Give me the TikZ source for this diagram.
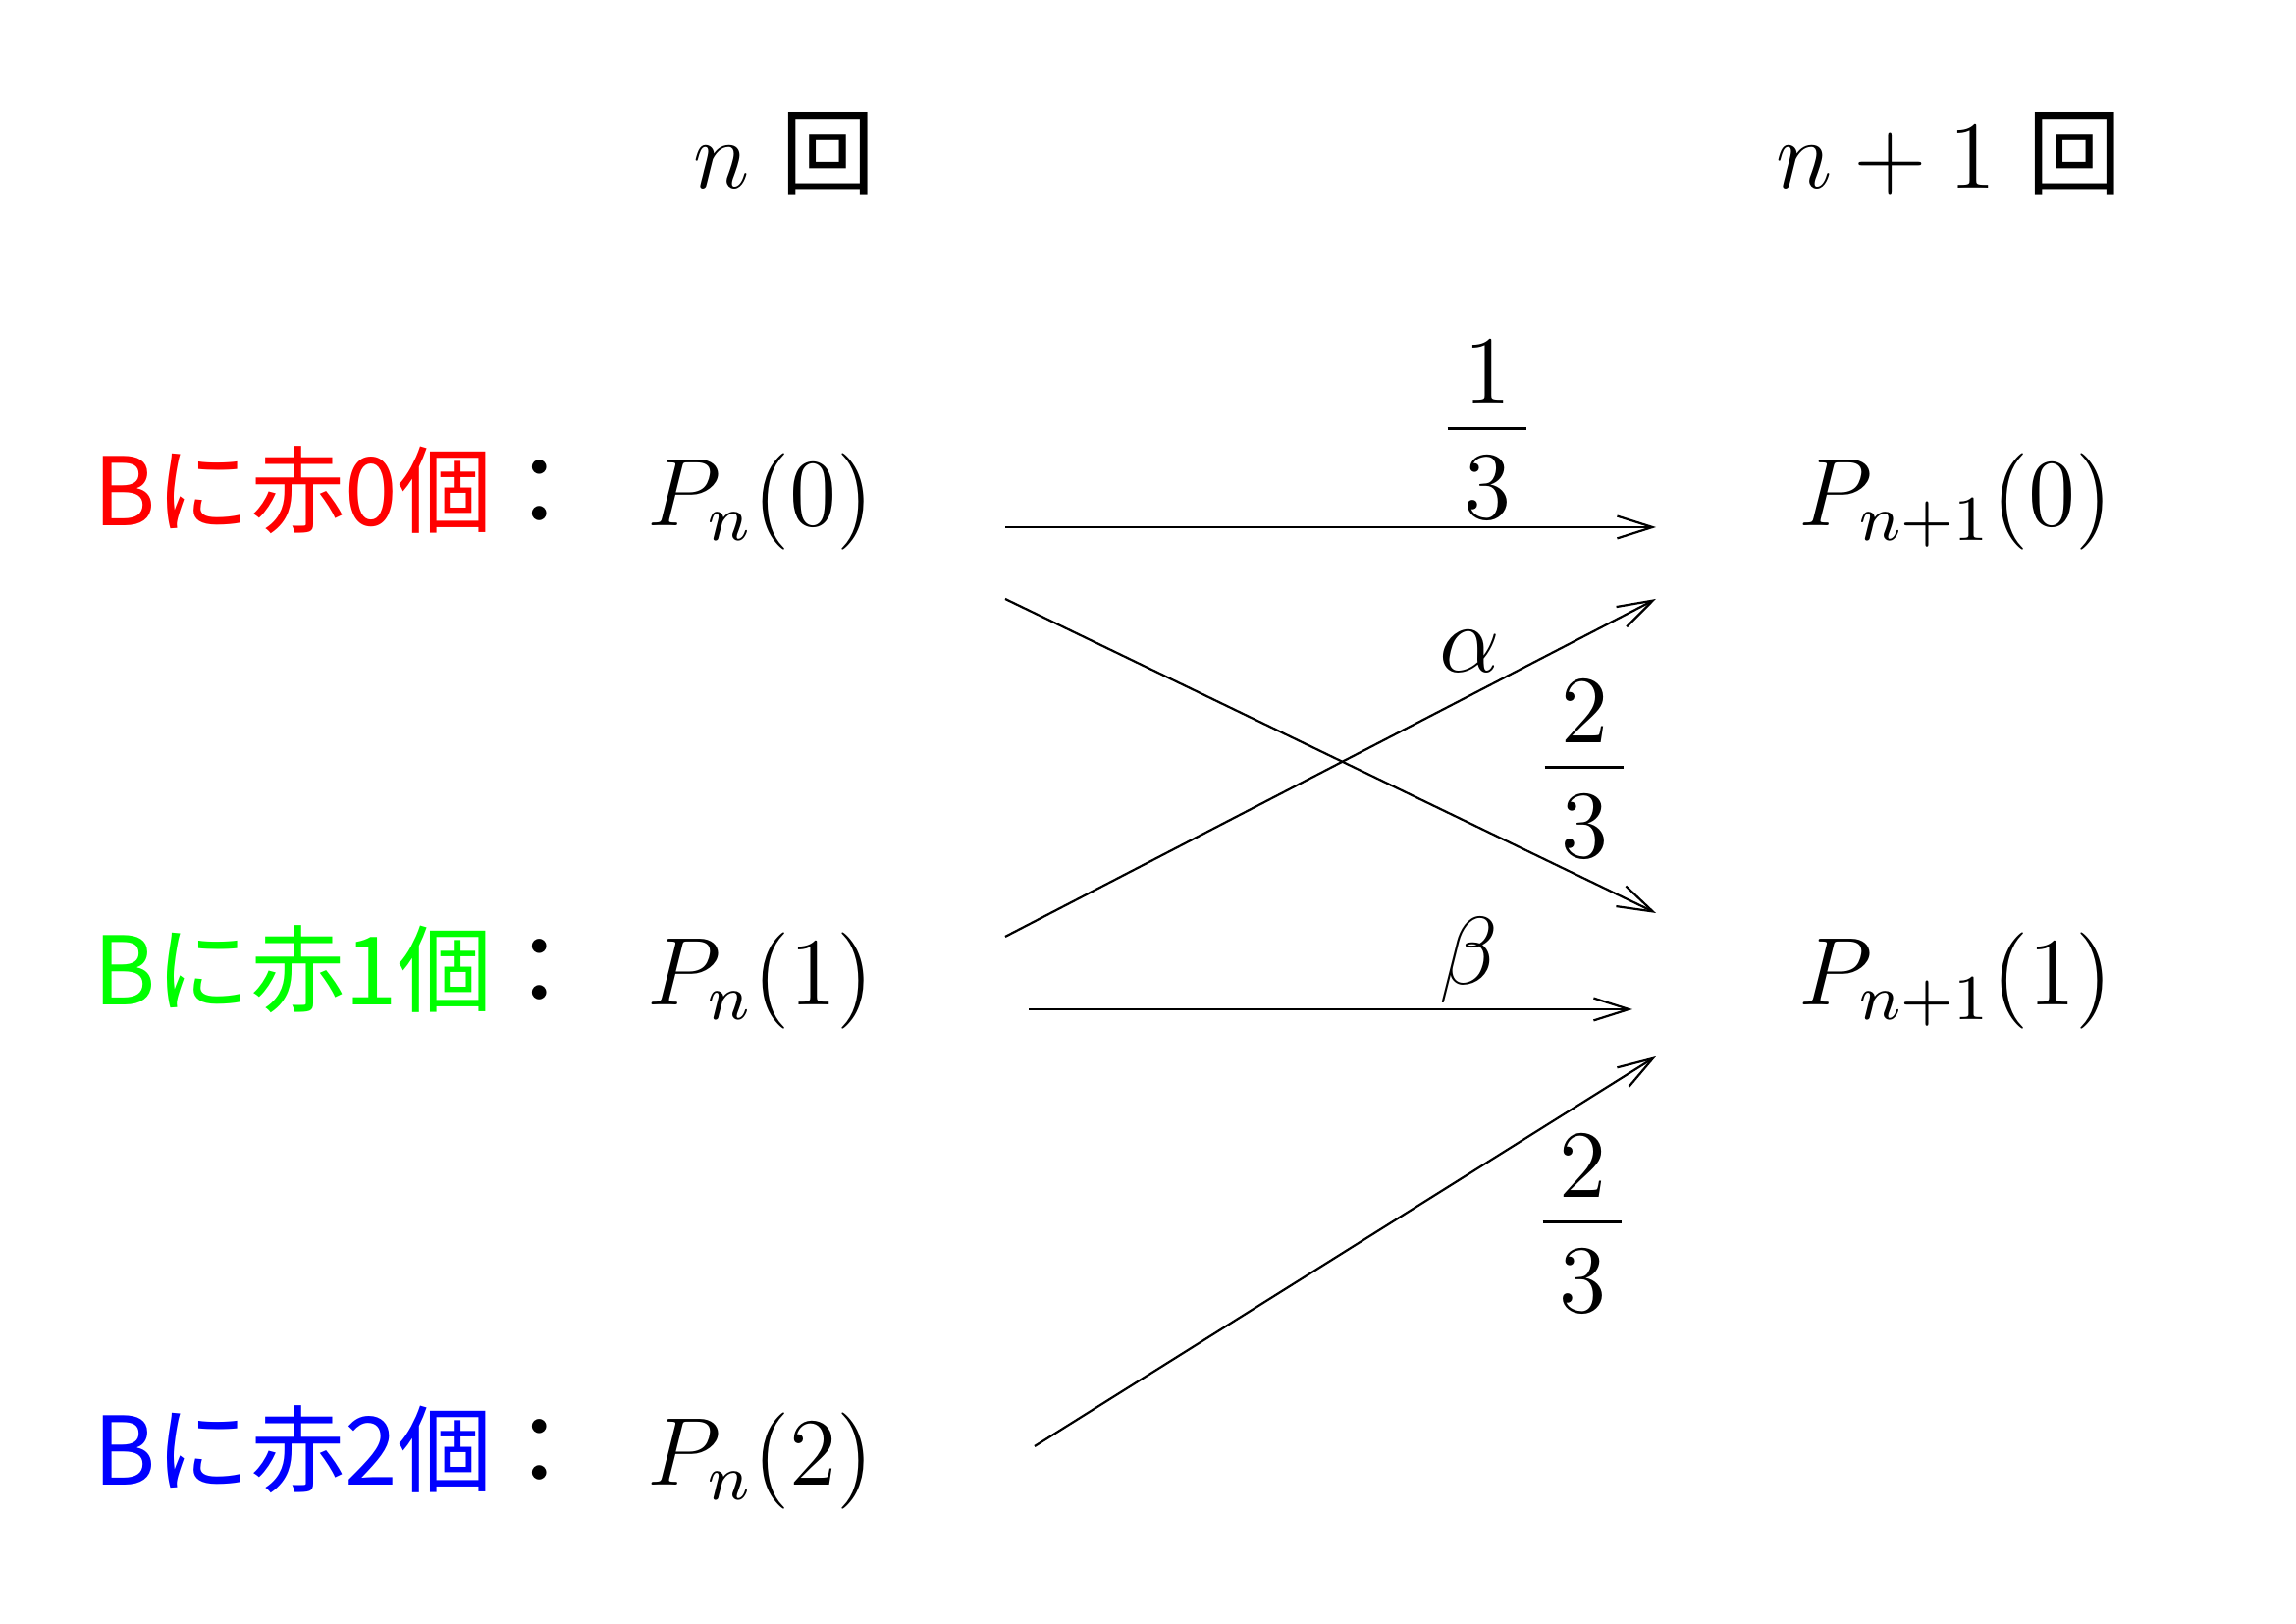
\documentclass[12pt,tikz,border=0pt]{standalone}
\usepackage{fontspec}
\newfontfamily\jpfam{Noto Sans CJK JP}
\newcommand{\jp}{\jpfam\fontsize{11.8pt}{14pt}\selectfont}
\usetikzlibrary{arrows.meta}
\newcommand{\myfrac}[2]{\displaystyle\frac{\raisebox{-2pt}{$\,#1\,$}}{\,#2\,}}
\begin{document}
\begin{tikzpicture}[x=0.1224pt,y=-0.1224pt,
  lbl/.style={inner sep=0pt,anchor=base west},
  mid/.style={inner sep=0pt,anchor=base},
  arr/.style={-{Straight Barb[length=4.4pt,width=2.8pt]},line width=0.27pt}]
\useasboundingbox (0,0) rectangle (2339,1654);
% headers
\node[lbl] (h0) at (705,192) {$n$ {\jp 回}};
\node[lbl] (h1) at (1808,192) {$n+1$ {\jp 回}};
% row labels
\node[lbl] (L0) at (94,536) {\jp\textcolor{red}{Bに赤0個}：};
\node[lbl] (L1) at (94,1024) {\jp\textcolor{green}{Bに赤1個}：};
\node[lbl] (L2) at (94,1513) {\jp\textcolor{blue}{Bに赤2個}：};
% probabilities
\node[lbl] (P0) at (658,536) {$P_n(0)$};
\node[lbl] (P1) at (658,1024) {$P_n(1)$};
\node[lbl] (P2) at (658,1513) {$P_n(2)$};
\node[lbl] (Q0) at (1831,536) {$P_{n+1}(0)$};
\node[lbl] (Q1) at (1831,1024) {$P_{n+1}(1)$};
% arrow ends
\coordinate (a0s) at (1024,537);
\coordinate (a0e) at (1687,537);
\coordinate (x1s) at (1024,610);
\coordinate (x1e) at (1687,930);
\coordinate (x2s) at (1024,954);
\coordinate (x2e) at (1687,610);
\coordinate (b1s) at (1048,1028);
\coordinate (b1e) at (1663,1028);
\coordinate (c2s) at (1054,1473);
\coordinate (c2e) at (1687,1076);
\draw[arr] (a0s) -- (a0e);
\draw[arr] (x1s) -- (x1e);
\draw[arr] (x2s) -- (x2e);
\draw[arr] (b1s) -- (b1e);
\draw[arr] (c2s) -- (c2e);
% edge labels
\node[mid] (f1) at (1515,461) {$\myfrac{1}{3}$};
\node[mid] (al) at (1497,685) {$\alpha$};
\node[mid] (f2) at (1614,806) {$\myfrac{2}{3}$};
\node[mid] (bt) at (1496,1003) {$\beta$};
\node[mid] (f3) at (1612,1269) {$\myfrac{2}{3}$};
\end{tikzpicture}
\end{document}
